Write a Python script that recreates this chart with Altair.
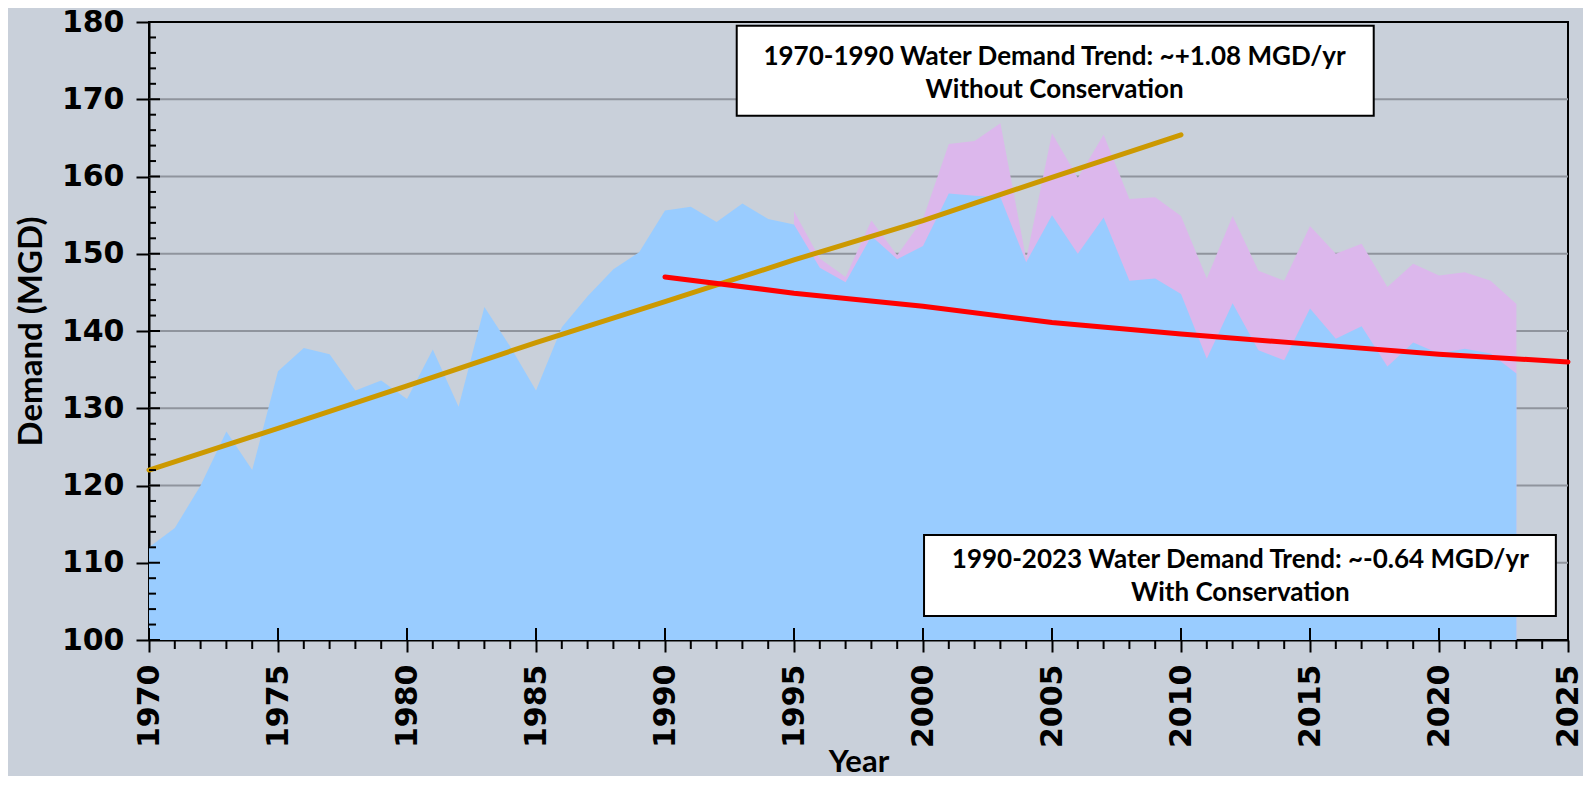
import altair as alt
import pandas as pd

# ---------------- data ----------------
YEARS = list(range(1970, 2024))
DEMAND = [112.0, 114.5, 120.0, 127.0, 122.0, 134.8, 137.8, 137.0, 132.3, 133.6,
          131.2, 137.6, 130.2, 143.1, 138.0, 132.3, 140.5, 144.5, 148.0, 150.2,
          155.6, 156.1, 154.1, 156.5, 154.5, 153.8, 148.2, 146.3, 152.3, 149.3,
          151.0, 157.8, 157.5, 157.3, 148.9, 155.0, 150.0, 154.7, 146.5, 146.8,
          144.8, 136.4, 143.6, 137.5, 136.2, 142.9, 139.0, 140.6, 135.4, 138.5,
          137.1, 137.7, 137.1, 134.5]

NOCONS_YEARS = list(range(1995, 2024))
NOCONS = [155.5, 149.4, 147.0, 154.3, 149.8, 154.5, 164.2, 164.6, 166.9, 149.3,
          165.6, 159.8, 165.4, 157.1, 157.3, 154.9, 146.8, 154.9, 147.8, 146.5,
          153.6, 150.0, 151.3, 145.7, 148.7, 147.2, 147.6, 146.5, 143.5]

UP_YEARS = [1970, 1975, 1980, 1985, 1990, 1995, 2000, 2005, 2010]
UP_TREND = [122.0, 127.4, 132.9, 138.5, 143.8, 149.2, 154.3, 159.9, 165.4]

DN_YEARS = [1990, 1995, 2000, 2005, 2010, 2015, 2020, 2025]
DN_TREND = [147.0, 144.9, 143.2, 141.1, 139.6, 138.3, 137.0, 136.0]

Y_TICKS = [100, 110, 120, 130, 140, 150, 160, 170, 180]
X_TICKS = [1970, 1975, 1980, 1985, 1990, 1995, 2000, 2005, 2010, 2015, 2020, 2025]
Y_MINOR = [v for v in range(102, 180, 2) if v % 10 != 0]
X_MINOR = [v for v in range(1971, 2025) if v % 5 != 0]

NOTE_LINES = ["1970-1990 Water Demand Trend: ~+1.08 MGD/yr", "Without Conservation",
              "1990-2023 Water Demand Trend: ~-0.64 MGD/yr", "With Conservation"]

# ---------------- layout / style ----------------
W, H = 1419, 618
BG = "#c9d0da"
BOX1 = dict(x=1992.78, x2=2017.47, y=179.5, y2=167.85)
BOX2 = dict(x=2000.04, x2=2024.53, y=113.6, y2=103.1)
TEXT_POS = [(2005.1, 175.45), (2005.1, 171.25), (2012.3, 110.3), (2012.3, 106.1)]

xscale = alt.Scale(domain=[1970, 2025], nice=False, zero=False)
yscale = alt.Scale(domain=[100, 180], nice=False, zero=False)

demand_df = pd.DataFrame({"year": YEARS, "value": DEMAND})
nocons_df = pd.DataFrame({"year": NOCONS_YEARS, "value": NOCONS})
up_df = pd.DataFrame({"year": UP_YEARS, "value": UP_TREND})
dn_df = pd.DataFrame({"year": DN_YEARS, "value": DN_TREND})
grid_df = pd.DataFrame({"value": Y_TICKS[1:-1]})
ymaj_df = pd.DataFrame({"value": Y_TICKS})
ymin_df = pd.DataFrame({"value": Y_MINOR})
xmaj_df = pd.DataFrame({"year": X_TICKS})
xmin_df = pd.DataFrame({"year": X_MINOR})
box_df = pd.DataFrame([BOX1, BOX2])
text_df = pd.DataFrame({"year": [p[0] for p in TEXT_POS],
                        "value": [p[1] for p in TEXT_POS],
                        "label": NOTE_LINES})

X = alt.X("year:Q", scale=xscale,
          axis=alt.Axis(title="Year", values=X_TICKS, format="d", labelAngle=270,
                        labelAlign="right", labelBaseline="middle",
                        tickSize=12, labelPadding=12, titlePadding=0, titleFontSize=31,
                        grid=False))
Y = alt.Y("value:Q", scale=yscale,
          axis=alt.Axis(title="Demand (MGD)", values=Y_TICKS, format="d",
                        tickSize=13, labelPadding=12, titlePadding=13, grid=False))

grid = alt.Chart(grid_df).mark_rule(color="#8f949d", strokeWidth=2).encode(y=Y)

pink = alt.Chart(nocons_df).mark_area(color="#dcb7ec", opacity=1).encode(
    x=X, y="value:Q", y2=alt.datum(100))
blue = alt.Chart(demand_df).mark_area(color="#99ccff", opacity=1).encode(
    x="year:Q", y="value:Q", y2=alt.datum(100))

up = alt.Chart(up_df).mark_line(color="#cc9900", strokeWidth=5, strokeCap="round").encode(
    x="year:Q", y="value:Q")
dn = alt.Chart(dn_df).mark_line(color="#ff0000", strokeWidth=5, strokeCap="round").encode(
    x="year:Q", y="value:Q")

ymaj_in = alt.Chart(ymaj_df).mark_rule(color="black", strokeWidth=2).encode(
    y="value:Q", x=alt.value(0), x2=alt.value(11))
ymin_in = alt.Chart(ymin_df).mark_rule(color="black", strokeWidth=2).encode(
    y="value:Q", x=alt.value(0), x2=alt.value(7))
xmaj_in = alt.Chart(xmaj_df).mark_rule(color="black", strokeWidth=2).encode(
    x="year:Q", y=alt.value(H - 12), y2=alt.value(H))
xmin_out = alt.Chart(xmin_df).mark_rule(color="black", strokeWidth=2).encode(
    x="year:Q", y=alt.value(H), y2=alt.value(H + 9))

boxes = alt.Chart(box_df).mark_rect(fill="white", stroke="black", strokeWidth=2).encode(
    x="x:Q", x2="x2", y="y:Q", y2="y2")
texts = alt.Chart(text_df).mark_text(font="Lato", fontWeight="bold", fontSize=26,
                                     color="black", align="center", baseline="middle").encode(
    x="year:Q", y="value:Q", text="label:N")

chart = alt.layer(grid, pink, blue, up, dn, ymaj_in, ymin_in, xmaj_in, xmin_out, boxes, texts).properties(
    width=W, height=H,
    autosize=alt.AutoSizeParams(type="none"),
    padding={"left": 141, "top": 14, "right": 15, "bottom": 136},
    background=BG,
).configure_view(
    stroke="black", strokeWidth=2, fill=BG
).configure_axis(
    domainColor="black", domainWidth=2, tickColor="black", tickWidth=2,
    labelColor="black", titleColor="black",
    labelFont="DejaVu Sans", labelFontWeight="bold", labelFontSize=30,
    titleFont="Lato", titleFontWeight="bold", titleFontSize=33,
    zindex=1
)

chart.save("out.html", embed_options={"renderer": "svg", "actions": False})
